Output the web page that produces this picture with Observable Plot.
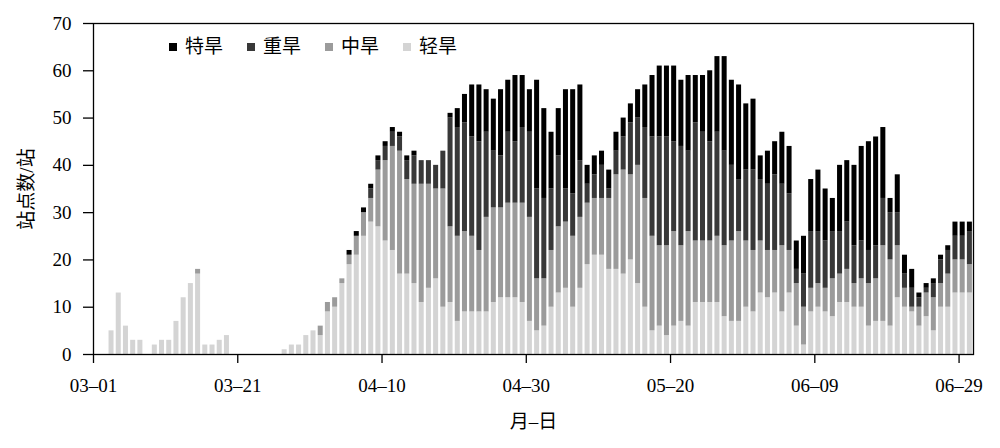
<!DOCTYPE html>
<html><head><meta charset="utf-8">
<script src="https://cdn.jsdelivr.net/npm/d3@7"></script>
<script src="https://cdn.jsdelivr.net/npm/@observablehq/plot@0.6"></script>
<style>
body{margin:0;background:#fff;}
#wrap{position:relative;width:1000px;height:448px;}
#legend{position:absolute;left:169px;top:37px;display:flex;gap:24px;font-family:'Liberation Serif','Noto Sans CJK SC',serif;font-size:19px;line-height:20px;color:#000;}
.item{display:flex;align-items:center;}
.sw{width:8px;height:8px;margin-right:8px;}
</style></head><body><div id="wrap"><div id="legend"></div></div>
<script>
// series names (bottom to top in stack) and colours
const seriesNames = ["轻旱", "中旱", "重旱", "特旱"];
const seriesColors = ["#d4d4d4", "#9b9b9b", "#383838", "#000000"];
const legendOrder = ["特旱", "重旱", "中旱", "轻旱"];
// daily station counts, day 0 = 03-01 ... day 121 = 06-30
const light = [0,0,5,13,6,3,3,0,2,3, 3,7,12,15,17,2,2,3,4,0, 0,0,0,0,0,0,1,2,2,4,
 5,4,9,10,15,19,21,25,28,27, 24,22,17,17,15,11,14,16,10,11, 7,9,9,9,9,11,12,12,12,11,
 7,5,6,10,13,14,10,14,19,21, 21,18,18,17,20,15,10,5,6,4, 6,7,6,11,11,11,11,8,7,7,
 10,9,13,12,13,9,13,6,2,9, 10,9,8,11,11,10,10,6,7,7, 6,12,10,9,6,8,5,10,10,13, 13,13];
const moderate = [0,0,0,0,0,0,0,0,0,0, 0,0,0,0,1,0,0,0,0,0, 0,0,0,0,0,0,0,0,0,0,
 0,2,2,2,1,2,4,5,5,12, 17,22,26,20,21,25,22,19,25,16, 18,17,16,13,20,20,19,20,20,21,
 22,11,10,12,14,14,15,15,13,12, 12,15,20,22,18,25,23,20,17,19, 20,16,20,13,13,13,14,15,17,19,
 14,13,11,10,9,14,9,9,8,5, 5,5,8,6,7,5,6,9,9,16, 14,11,4,1,4,5,7,5,7,7, 7,6];
const severe = [0,0,0,0,0,0,0,0,0,0, 0,0,0,0,0,0,0,0,0,0, 0,0,0,0,0,0,0,0,0,0,
 0,0,0,0,0,0,0,0,2,2, 3,3,3,4,6,5,5,5,8,23, 23,23,21,23,18,12,11,15,13,16,
 18,19,17,13,15,7,9,12,4,5, 7,2,5,7,11,10,15,21,23,23, 19,21,17,25,23,21,22,20,16,11,
 15,17,13,14,16,13,12,3,7,12, 11,10,10,9,10,8,8,7,7,10, 10,7,3,4,2,1,3,5,5,5, 5,7];
const extreme = [0,0,0,0,0,0,0,0,0,0, 0,0,0,0,0,0,0,0,0,0, 0,0,0,0,0,0,0,0,0,0,
 0,0,0,0,0,1,1,1,1,1, 1,1,1,1,1,0,0,0,0,1, 4,6,11,12,9,11,14,11,14,11,
 9,23,19,12,10,21,22,16,4,4, 3,4,4,4,4,6,9,13,15,15, 16,14,16,10,12,15,16,20,18,20,
 14,15,5,7,7,11,10,6,8,11, 13,11,7,14,13,17,20,23,23,15, 3,8,4,4,1,1,1,1,1,3, 3,2];
// x tick labels (month-day)
const tickLabels = ["03–01", "03–21", "04–10", "04–30", "05–20", "06–09", "06–29"];
const yTicks = [0, 10, 20, 30, 40, 50, 60, 70];

const seriesValues = [light, moderate, severe, extreme];
const dayCount = light.length;
const table = [];
for (let d = 0; d < dayCount; d++) {
  seriesNames.forEach((s, k) => table.push({d, s, v: seriesValues[k][d]}));
}
const dayOf = lbl => {
  const [m, dd] = lbl.split("–").map(Number);
  return Math.round((Date.UTC(2000, m - 1, dd) - Date.UTC(2000, 2, 1)) / 864e5);
};
const tickPos = tickLabels.map(dayOf);
const labelAt = new Map(tickPos.map((p, i) => [p, tickLabels[i]]));

const font = "'Liberation Serif', 'Noto Sans CJK SC', serif";
const chart = Plot.plot({
  width: 1000, height: 448,
  marginLeft: 93, marginRight: 27, marginTop: 23, marginBottom: 94,
  style: {fontFamily: font, fontSize: "19px", background: "#fff", color: "#000"},
  x: {type: "linear", domain: [0, dayCount]},
  y: {domain: [0, 70]},
  color: {domain: seriesNames, range: seriesColors},
  marks: [
    Plot.rectY(table, {x: "d", interval: 1, y: "v", fill: "s", insetLeft: 1.1, insetRight: 1.1}),
    Plot.frame({stroke: "#000", strokeWidth: 1.3}),
    Plot.axisY({ticks: yTicks, tickSize: 10, tickPadding: 12, strokeWidth: 1.3, tickFormat: d => d,
      label: "站点数/站", labelAnchor: "center", labelArrow: "none", labelOffset: 74}),
    Plot.axisX({ticks: tickPos, tickSize: 9, tickPadding: 15, strokeWidth: 1.3, tickFormat: v => labelAt.get(v),
      label: "月–日", labelAnchor: "center", labelArrow: "none", labelOffset: 73})
  ]
});
document.getElementById("wrap").appendChild(chart);

const legend = document.getElementById("legend");
legendOrder.forEach(name => {
  const item = document.createElement("div");
  item.className = "item";
  const sw = document.createElement("span");
  sw.className = "sw";
  sw.style.background = seriesColors[seriesNames.indexOf(name)];
  const t = document.createElement("span");
  t.textContent = name;
  item.appendChild(sw); item.appendChild(t);
  legend.appendChild(item);
});
</script></body></html>
